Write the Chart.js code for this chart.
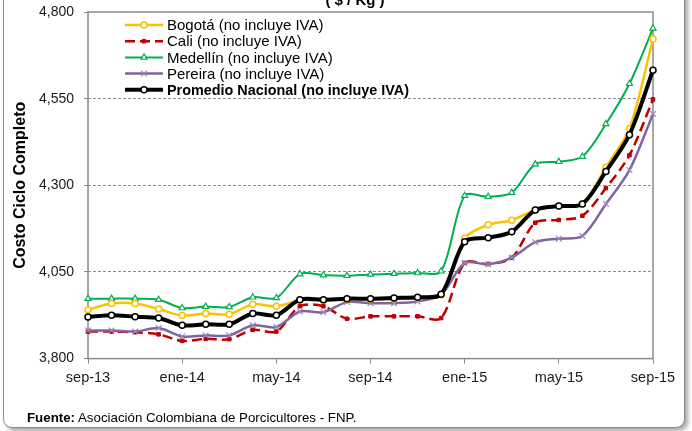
<!DOCTYPE html>
<html>
<head>
<meta charset="utf-8">
<script src="https://cdn.jsdelivr.net/npm/chart.js@4/dist/chart.umd.min.js"></script>
<style>
  body { margin: 0; background: #fff; }
  #wrap { position: relative; width: 692px; height: 431px; overflow: hidden; font-family: Arial, "Liberation Sans", sans-serif; background: #fff; }
  #card { position: absolute; left: 3px; top: -20px; width: 680px; height: 446px; border: 1px solid #8a8a8a; border-radius: 9px; box-shadow: 3px 3px 4px rgba(0,0,0,0.35); background: #fff; }
  #chart { position: absolute; left: 0; top: 0; }
  #title { position: absolute; left: 295px; width: 120px; top: -9px; text-align: center; font-weight: bold; font-size: 15px; color: #000; }
  #source { position: absolute; left: 27px; top: 410px; font-size: 13.3px; color: #000; }
</style>
</head>
<body>
<div id="wrap">
  <div id="card"></div>
  <canvas id="chart" width="692" height="431"></canvas>
  <div id="title">( $ / Kg )</div>
  <div id="source"><b>Fuente:</b> Asociación Colombiana de Porcicultores - FNP.</div>
</div>
<script>
// monthly data, sep-13 .. sep-15
const months = ['sep-13', 'oct-13', 'nov-13', 'dic-13', 'ene-14', 'feb-14', 'mar-14', 'abr-14', 'may-14',
  'jun-14', 'jul-14', 'ago-14', 'sep-14', 'oct-14', 'nov-14', 'dic-14', 'ene-15', 'feb-15', 'mar-15',
  'abr-15', 'may-15', 'jun-15', 'jul-15', 'ago-15', 'sep-15'];

const bogota = [3941, 3959, 3959, 3943, 3924, 3930, 3928, 3957, 3951, 3968, 3968, 3971, 3971, 3973, 3975, 3984,
  4147, 4186, 4199, 4229, 4240, 4246, 4352, 4463, 4722];
const cali = [3878, 3878, 3876, 3870, 3851, 3857, 3856, 3883, 3878, 3951, 3951, 3915, 3922, 3922, 3922, 3917,
  4076, 4073, 4091, 4192, 4200, 4212, 4292, 4387, 4548];
const medellin = [3973, 3973, 3973, 3970, 3946, 3950, 3949, 3977, 3975, 4044, 4041, 4039, 4043, 4045, 4047, 4052,
  4270, 4267, 4279, 4361, 4368, 4383, 4477, 4593, 4753];
const pereira = [3881, 3881, 3878, 3888, 3864, 3867, 3867, 3896, 3891, 3936, 3934, 3963, 3960, 3960, 3965, 3985,
  4076, 4072, 4091, 4136, 4146, 4154, 4246, 4344, 4506];
const promedio = [3920, 3925, 3921, 3917, 3896, 3899, 3899, 3930, 3925, 3970, 3970, 3973, 3973, 3975, 3977, 3986,
  4137, 4149, 4166, 4229, 4240, 4246, 4340, 4446, 4632];

const yTicks = [3800, 4050, 4300, 4550, 4800];

const FONT = 'Arial, "Liberation Sans", sans-serif';

// grey frame around the plot area
const framePlugin = {
  id: 'frame',
  beforeDatasetsDraw(chart) {
    const { ctx, chartArea: a } = chart;
    ctx.save();
    ctx.strokeStyle = '#8a8a8a';
    ctx.lineWidth = 1.5;
    ctx.strokeRect(a.left, a.top, a.right - a.left, a.bottom - a.top);
    ctx.restore();
  }
};

// legend drawn inside the plot, upper left
const legendPlugin = {
  id: 'insideLegend',
  afterDatasetsDraw(chart) {
    const { ctx, chartArea: a } = chart;
    const x0 = a.left + 37, x1 = a.left + 75;
    chart.data.datasets.forEach((ds, i) => {
      const y = a.top + 13 + i * 16.2;
      ctx.save();
      ctx.strokeStyle = ds.borderColor;
      ctx.lineWidth = ds.borderWidth;
      ctx.setLineDash(ds.borderDash || []);
      ctx.beginPath();
      ctx.moveTo(x0, y);
      ctx.lineTo(x1, y);
      ctx.stroke();
      ctx.setLineDash([]);
      ctx.fillStyle = ds.pointBackgroundColor;
      ctx.strokeStyle = ds.pointBorderColor;
      ctx.lineWidth = ds.pointBorderWidth;
      Chart.helpers.drawPoint(ctx, {
        pointStyle: ds.pointStyle, radius: ds.pointRadius, borderWidth: ds.pointBorderWidth, rotation: 0
      }, (x0 + x1) / 2, y);
      ctx.fillStyle = '#000';
      ctx.font = ds.legendBold ? 'bold 14.4px ' + FONT : '15px ' + FONT;
      ctx.textBaseline = 'middle';
      ctx.fillText(ds.label, x1 + 4, y + 1);
      ctx.restore();
    });
  }
};

new Chart(document.getElementById('chart'), {
  type: 'line',
  data: {
    labels: months,
    datasets: [
      {
        label: 'Bogotá (no incluye IVA)', data: bogota, order: 1,
        borderColor: '#FFC000', borderWidth: 2.5,
        pointStyle: 'circle', pointRadius: 3, pointBackgroundColor: '#fff', pointBorderColor: '#FFC000', pointBorderWidth: 1.5
      },
      {
        label: 'Cali (no incluye IVA)', data: cali, order: 2,
        borderColor: '#C00000', borderWidth: 2.5, borderDash: [10, 5],
        pointStyle: 'rect', pointRadius: 2.5, pointBackgroundColor: '#C00000', pointBorderColor: '#C00000', pointBorderWidth: 1
      },
      {
        label: 'Medellín (no incluye IVA)', data: medellin, order: 2,
        borderColor: '#00B050', borderWidth: 2,
        pointStyle: 'triangle', pointRadius: 3.5, pointBackgroundColor: '#fff', pointBorderColor: '#00B050', pointBorderWidth: 1.2
      },
      {
        label: 'Pereira (no incluye IVA)', data: pereira, order: 1,
        borderColor: '#8064A2', borderWidth: 2.5,
        pointStyle: 'crossRot', pointRadius: 4, pointBackgroundColor: '#fff', pointBorderColor: '#9D87BE', pointBorderWidth: 1.2
      },
      {
        label: 'Promedio Nacional (no incluye IVA)', data: promedio, order: 0, legendBold: true,
        borderColor: '#000', borderWidth: 4,
        pointStyle: 'circle', pointRadius: 3, pointBackgroundColor: '#fff', pointBorderColor: '#000', pointBorderWidth: 1.5
      }
    ]
  },
  options: {
    responsive: false,
    animation: false,
    events: [],
    layout: { padding: { top: 12, right: 39, bottom: 38, left: 0 } },
    elements: { line: { tension: 0.3 } },
    datasets: { line: { clip: false } },
    plugins: {
      legend: { display: false },
      tooltip: { enabled: false }
    },
    scales: {
      x: {
        type: 'category',
        afterBuildTicks: scale => { scale.ticks = scale.ticks.filter(t => t.value % 4 === 0); },
        grid: { drawOnChartArea: false, drawTicks: true, tickLength: 5, color: '#8a8a8a' },
        border: { display: false },
        ticks: {
          autoSkip: false, maxRotation: 0, padding: 6, color: '#1a1a1a',
          font: { family: FONT, size: 14.5 },
          callback: v => months[v]
        }
      },
      y: {
        min: 3800, max: 4800,
        afterBuildTicks: scale => { scale.ticks = yTicks.map(v => ({ value: v })); },
        afterFit: scale => {
          scale.width = 88;
          scale.paddingTop = 0;
          scale.paddingBottom = 0;
        },
        grid: {
          color: c => (c.tick && (c.tick.value === 3800 || c.tick.value === 4800)) ? 'rgba(0,0,0,0)' : '#8c8c8c',
          tickColor: '#8a8a8a', tickLength: 4, lineWidth: 1
        },
        border: { display: false, dash: [3, 2] },
        ticks: {
          padding: 10, color: '#1a1a1a',
          font: { family: FONT, size: 14 },
          callback: v => v.toLocaleString('en-US')
        },
        title: {
          display: true, text: 'Costo Ciclo Completo', color: '#000',
          font: { family: FONT, size: 16, weight: 'bold' },
          padding: { top: 11, bottom: 0 }
        }
      }
    }
  },
  plugins: [framePlugin, legendPlugin]
});
</script>
</body>
</html>
